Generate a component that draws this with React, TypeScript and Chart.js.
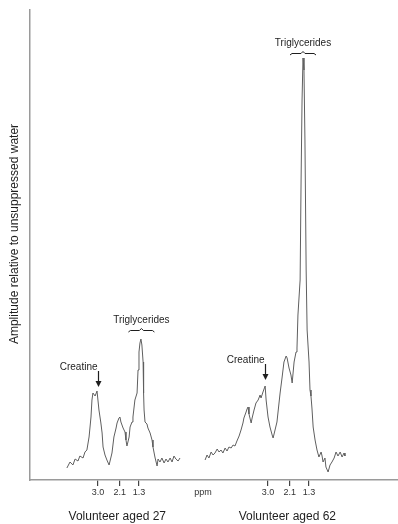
import { useEffect, useRef } from "react";
import { Chart, registerables } from "chart.js";

Chart.register(...registerables);

// Spectrum of the 27-year-old volunteer (chemical shift in ppm, amplitude)
const ppm27 = [
  4.29, 4.16, 4.04, 3.95, 3.83, 3.75, 3.62, 3.54, 3.46, 3.37, 3.29, 3.25, 3.21, 3.12, 3.04,
  2.96, 2.88, 2.83, 2.79, 2.71, 2.63, 2.54, 2.5, 2.42, 2.34, 2.25, 2.21, 2.13, 2.09, 2.05,
  1.96, 1.88, 1.84, 1.8, 1.71, 1.67, 1.59, 1.55, 1.47, 1.38, 1.34, 1.3, 1.26, 1.22, 1.18,
  1.13, 1.11, 1.09, 1.05, 0.97, 0.93, 0.84, 0.76, 0.72, 0.64, 0.55, 0.51, 0.43, 0.35, 0.26,
  0.18, 0.1, 0.01, -0.07, -0.15, -0.23, -0.32, -0.4,
];
const amp27 = [
  1.2, 1.8, 1.5, 2.1, 1.9, 2.4, 2.2, 2.8, 3.0, 4.3, 6.3, 8.0, 8.7, 8.4, 8.9,
  7.0, 5.7, 4.7, 3.3, 2.5, 2.0, 1.5, 1.9, 2.7, 4.3, 5.2, 5.7, 6.2, 6.3, 5.8,
  5.2, 4.8, 4.0, 3.4, 4.3, 5.3, 5.8, 6.3, 8.0, 8.7, 11.0, 12.8, 13.7, 14.1, 13.5,
  11.8, 8.7, 7.0, 5.8, 5.6, 5.2, 4.7, 4.0, 3.3, 2.3, 1.4, 2.1, 1.8, 2.2, 1.7,
  2.1, 1.8, 2.2, 1.8, 2.4, 2.1, 1.9, 2.2,
];

// Spectrum of the 62-year-old volunteer
const ppm62 = [
  5.61, 5.53, 5.45, 5.36, 5.28, 5.2, 5.11, 5.03, 4.95, 4.87, 4.78, 4.7, 4.62, 4.53, 4.45,
  4.37, 4.29, 4.2, 4.12, 4.04, 4.0, 3.91, 3.87, 3.83, 3.79, 3.7, 3.66, 3.58, 3.5, 3.41,
  3.33, 3.29, 3.21, 3.12, 3.08, 3.0, 2.92, 2.83, 2.79, 2.71, 2.63, 2.59, 2.5, 2.42, 2.34,
  2.25, 2.21, 2.13, 2.05, 2.0, 1.92, 1.84, 1.8, 1.76, 1.67, 1.63, 1.59, 1.55, 1.51, 1.47,
  1.42, 1.38, 1.3, 1.26, 1.22, 1.18, 1.13, 1.05, 0.97, 0.89, 0.8, 0.76, 0.72, 0.64, 0.6,
  0.51, 0.43, 0.35, 0.26, 0.18, 0.1, 0.01, -0.07, -0.15, -0.19,
];
const amp62 = [
  2.0, 2.5, 2.2, 2.8, 2.5, 2.7, 3.1, 2.8, 3.0, 2.7, 3.2, 2.9, 3.3, 3.2, 3.5,
  3.4, 3.9, 4.4, 5.0, 5.7, 6.2, 6.8, 7.1, 7.3, 6.6, 5.7, 6.2, 7.0, 7.7, 8.0,
  8.5, 8.2, 8.8, 9.4, 8.0, 6.3, 5.3, 4.5, 4.2, 5.0, 5.8, 6.7, 8.7, 10.2, 11.8,
  12.4, 12.2, 11.2, 10.5, 9.7, 11.8, 12.8, 13.2, 16.5, 20.0, 30.0, 38.0, 42.2, 41.0, 34.0,
  21.0, 15.0, 11.8, 9.0, 8.4, 7.2, 5.3, 4.0, 3.0, 2.3, 2.8, 2.4, 1.8, 2.2, 1.3,
  0.8, 1.5, 1.8, 2.2, 2.8, 2.4, 2.8, 2.3, 2.7, 2.4,
];

// Axis ticks (ppm) shown under each spectrum
const tickPpm = [3.0, 2.1, 1.3];
const tickText = ["3.0", "2.1", "1.3"];
const unitText = "ppm";
const unitPos = -1.35;

const volunteers = ["Volunteer aged 27", "Volunteer aged 62"];
const yTitle = "Amplitude relative to unsuppressed water";

// Peak annotations: creatine arrow tips and triglyceride brackets
const creatineTip = [
  { ppm: 3.0, amp: 9.3 },
  { ppm: 3.12, amp: 10.0 },
];
const triglycerideMark = [
  { ppm: 1.2, amp: 15.0 },
  { ppm: 1.55, amp: 42.7 },
];

// The second spectrum is laid out to the right of the first on one shared axis
const SHIFT = 7.05;
const X_MAX = 5.819;
const X_MIN = -9.438;

const FONT = "'Liberation Sans', Arial, sans-serif";

const axisTicks = [...tickPpm, ...tickPpm.map((v) => v - SHIFT), unitPos];
const axisLabels = [...tickText, ...tickText, unitText];

const annotations = {
  id: "spectrumNotes",
  afterDraw(chart: any) {
    const { ctx } = chart;
    const x = chart.scales.x;
    const y = chart.scales.y;
    ctx.save();
    ctx.fillStyle = "#1e1e1e";
    ctx.strokeStyle = "#1e1e1e";

    creatineTip.forEach((c, i) => {
      const px = Math.round(x.getPixelForValue(c.ppm - i * SHIFT)) + 0.5;
      const tip = y.getPixelForValue(c.amp);
      const top = tip - 16;
      ctx.lineWidth = 1.2;
      ctx.beginPath();
      ctx.moveTo(px, top);
      ctx.lineTo(px, tip - 4);
      ctx.stroke();
      ctx.beginPath();
      ctx.moveTo(px - 3, tip - 6);
      ctx.lineTo(px + 3, tip - 6);
      ctx.lineTo(px, tip);
      ctx.closePath();
      ctx.fill();
      ctx.font = `10px ${FONT}`;
      ctx.textAlign = "right";
      ctx.textBaseline = "middle";
      ctx.fillText("Creatine", px - 1, top - 4);
    });

    triglycerideMark.forEach((t, i) => {
      const px = x.getPixelForValue(t.ppm - i * SHIFT);
      const by = Math.round(y.getPixelForValue(t.amp)) + 0.5;
      ctx.lineWidth = 1;
      ctx.beginPath();
      ctx.moveTo(px - 13, by + 1.5);
      ctx.lineTo(px - 11, by);
      ctx.lineTo(px - 2, by);
      ctx.lineTo(px, by - 2);
      ctx.lineTo(px + 2, by);
      ctx.lineTo(px + 11, by);
      ctx.lineTo(px + 13, by + 1.5);
      ctx.stroke();
      ctx.font = `10px ${FONT}`;
      ctx.textAlign = "center";
      ctx.textBaseline = "middle";
      ctx.fillText("Triglycerides", px, by - 10);
    });

    ctx.font = `12px ${FONT}`;
    ctx.textAlign = "center";
    ctx.textBaseline = "middle";
    volunteers.forEach((name, i) => {
      ctx.fillText(name, x.getPixelForValue(2.2 - i * SHIFT), 517);
    });

    ctx.translate(15, 234);
    ctx.rotate(-Math.PI / 2);
    ctx.fillText(yTitle, 0, 0);
    ctx.restore();
  },
};

export default function App() {
  const canvasRef = useRef<HTMLCanvasElement | null>(null);

  useEffect(() => {
    const canvas = canvasRef.current;
    if (!canvas) return;
    const lineStyle = {
      borderColor: "#5f5f5f",
      borderWidth: 1,
      pointRadius: 0,
      tension: 0,
      fill: false,
    };
    const chart = new Chart(canvas, {
      type: "line",
      data: {
        datasets: [
          {
            label: volunteers[0],
            data: ppm27.map((p, i) => ({ x: p, y: amp27[i] })),
            ...lineStyle,
          },
          {
            label: volunteers[1],
            data: ppm62.map((p, i) => ({ x: p - SHIFT, y: amp62[i] })),
            ...lineStyle,
          },
        ],
      },
      options: {
        animation: false,
        responsive: false,
        devicePixelRatio: 1,
        layout: { padding: { top: 10, right: 0, left: 0, bottom: 0 } },
        plugins: {
          legend: { display: false },
          tooltip: { enabled: false },
        },
        scales: {
          x: {
            type: "linear",
            reverse: true,
            min: X_MIN,
            max: X_MAX,
            afterBuildTicks: (axis: any) => {
              axis.ticks = axisTicks.map((v) => ({ value: v }));
            },
            afterFit: (axis: any) => {
              axis.height = 44;
            },
            ticks: {
              autoSkip: false,
              maxRotation: 0,
              padding: 1,
              color: "#333",
              font: { family: FONT, size: 9 },
              callback: (_v: any, index: number) => axisLabels[index],
            },
            grid: {
              display: true,
              drawOnChartArea: false,
              drawTicks: true,
              tickLength: 6,
              lineWidth: 1.2,
              color: (ctx: any) => (ctx.index === axisTicks.length - 1 ? "rgba(0,0,0,0)" : "#444"),
            },
            border: { display: true, color: "#9a9a9a", width: 1.5 },
          },
          y: {
            type: "linear",
            min: 0,
            max: 47,
            afterFit: (axis: any) => {
              axis.width = 30;
            },
            ticks: { display: false },
            grid: { display: false },
            border: { display: true, color: "#9a9a9a", width: 1.5 },
          },
        },
      },
      plugins: [annotations],
    });
    return () => chart.destroy();
  }, []);

  return (
    <div style={{ position: "absolute", left: 0, top: 0, width: 398, height: 524, background: "#fff" }}>
      <canvas ref={canvasRef} width={398} height={524} style={{ width: 398, height: 524 }} />
    </div>
  );
}
